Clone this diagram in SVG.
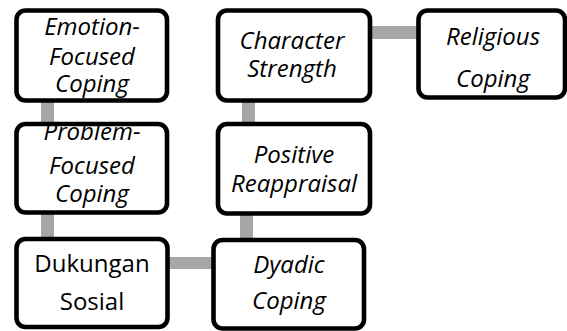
<svg xmlns="http://www.w3.org/2000/svg" width="567" height="331" viewBox="0 0 567 331">
<style>
.box{fill:#fff;stroke:#000;stroke-width:4.6}
.t{font-family:"Open Sans","Liberation Sans",sans-serif;font-size:24px;fill:#000;text-anchor:middle}
.i{font-style:italic}
.c{fill:#a6a6a6}
</style>
<rect width="567" height="331" fill="#fff"/>
<g id="connectors">
<rect class="c" x="41" y="100" width="13" height="24"/>
<rect class="c" x="41" y="212" width="13" height="27"/>
<rect class="c" x="167" y="257" width="47" height="12"/>
<rect class="c" x="240" y="213" width="13" height="27"/>
<rect class="c" x="242" y="100" width="13" height="24"/>
<rect class="c" x="370" y="26" width="49" height="13"/>
</g>
<g id="emotion">
<rect class="box" x="16.5" y="10.5" width="150.5" height="90" rx="9"/>
<text class="t i" x="92" y="35">Emotion-</text>
<text class="t i" x="92" y="64.5">Focused</text>
<text class="t i" x="92" y="92">Coping</text>
</g>
<g id="problem">
<rect class="box" x="16.5" y="124" width="150.5" height="88.5" rx="9"/>
<text class="t i" x="92" y="140">Problem-</text>
<text class="t i" x="92" y="174">Focused</text>
<text class="t i" x="92" y="202">Coping</text>
</g>
<g id="dukungan">
<rect class="box" x="16.5" y="239" width="151" height="88" rx="9"/>
<text class="t" x="92" y="272">Dukungan</text>
<text class="t" x="92" y="310">Sosial</text>
</g>
<g id="character">
<rect class="box" x="218" y="10.5" width="152" height="90" rx="9"/>
<text class="t i" x="292" y="49">Character</text>
<text class="t i" x="292" y="77">Strength</text>
</g>
<g id="religious">
<rect class="box" x="418.5" y="10.5" width="146.5" height="87" rx="9"/>
<text class="t i" x="493" y="45">Religious</text>
<text class="t i" x="493" y="87">Coping</text>
</g>
<g id="positive">
<rect class="box" x="218" y="124" width="152" height="89.5" rx="9"/>
<text class="t i" x="294" y="162.5">Positive</text>
<text class="t i" x="294" y="191.5">Reappraisal</text>
</g>
<g id="dyadic">
<rect class="box" x="213.5" y="240" width="150.5" height="88.5" rx="9"/>
<text class="t i" x="289" y="273">Dyadic</text>
<text class="t i" x="289" y="309">Coping</text>
</g>
</svg>
